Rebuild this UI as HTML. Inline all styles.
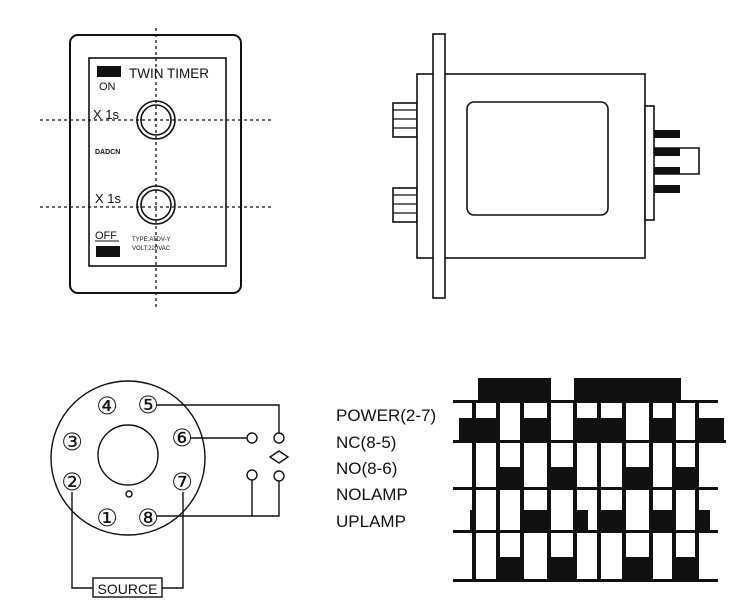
<!DOCTYPE html>
<html><head><meta charset="utf-8"><style>
html,body{margin:0;padding:0;background:#fff;}
svg{display:block;font-family:"Liberation Sans",Arial,sans-serif;}
</style></head><body>
<svg width="750" height="605" viewBox="0 0 750 605" xmlns="http://www.w3.org/2000/svg">
<!-- Front panel -->
<rect x="70" y="35" width="171" height="258" rx="8" fill="none" stroke="#111" stroke-width="2"/>
<rect x="89" y="58" width="137" height="208" fill="none" stroke="#111" stroke-width="1.6"/>
<g stroke="#111" stroke-width="1.3" stroke-dasharray="3,3" fill="none">
<line x1="156" y1="28" x2="156" y2="308"/>
<line x1="40" y1="120" x2="273" y2="120"/>
<line x1="40" y1="207" x2="273" y2="207"/>
</g>
<g fill="none" stroke="#111" stroke-width="1.6">
<circle cx="156" cy="120" r="19"/><circle cx="156" cy="120" r="15"/>
<circle cx="156" cy="205" r="19"/><circle cx="156" cy="205" r="15"/>
</g>
<rect x="97" y="66" width="24" height="11" fill="#111"/>
<text x="129" y="78" font-size="13.5" fill="#111">TWIN TIMER</text>
<text x="99" y="90" font-size="11" fill="#111">ON</text>
<text x="93" y="119" font-size="13" fill="#111">X 1s</text>
<text x="95" y="154" font-size="7" font-weight="bold" fill="#111">DADCN</text>
<text x="95" y="203" font-size="13" fill="#111">X 1s</text>
<text x="95" y="239" font-size="11" fill="#111">OFF</text>
<line x1="95" y1="241" x2="119" y2="241" stroke="#111" stroke-width="1"/>
<rect x="96" y="246" width="24" height="11" fill="#111"/>
<text x="132" y="241" font-size="6" fill="#111">TYPE:ATDV-Y</text>
<text x="132" y="250" font-size="6" fill="#111">VOLT:220VAC</text>

<!-- Side view -->
<g fill="#fff" stroke="#111" stroke-width="1.6">
<rect x="393" y="103" width="24" height="34"/>
<rect x="393" y="188" width="24" height="34"/>
<rect x="417" y="74" width="228" height="184"/>
<rect x="433" y="34" width="12" height="264"/>
<rect x="467" y="102" width="141" height="113" rx="7"/>
<rect x="645" y="106" width="9" height="114"/>
<path d="M654 148 H699 V174 H654" fill="none"/>
</g>
<g stroke="#111" stroke-width="1.2">
<line x1="393" y1="110" x2="417" y2="110"/><line x1="393" y1="119" x2="417" y2="119"/><line x1="393" y1="128" x2="417" y2="128"/>
<line x1="393" y1="195" x2="417" y2="195"/><line x1="393" y1="204" x2="417" y2="204"/><line x1="393" y1="213" x2="417" y2="213"/>
</g>
<g fill="#111">
<rect x="654" y="130" width="26" height="8"/>
<rect x="654" y="148" width="26" height="8"/>
<rect x="654" y="167" width="26" height="7"/>
<rect x="654" y="185" width="26" height="8"/>
</g>

<!-- Wiring diagram -->
<g fill="none" stroke="#111" stroke-width="1.4">
<circle cx="128" cy="458" r="77"/>
<circle cx="128" cy="455" r="30"/>
<circle cx="129" cy="494" r="3"/>
<polyline points="156,405 279,405 279,433"/>
<circle cx="279" cy="438" r="5"/>
<polygon points="270,457 279,451 288,457 279,463"/>
<circle cx="279" cy="476" r="5"/>
<polyline points="279,481 279,516 156,516"/>
<line x1="190" y1="438" x2="247" y2="438"/>
<circle cx="252" cy="438" r="5"/>
<circle cx="252" cy="475" r="5"/>
<line x1="252" y1="480" x2="252" y2="516"/>
<polyline points="72,492 72,588 93,588"/>
<rect x="93" y="578" width="69" height="19"/>
<polyline points="162,588 183,588 183,492"/>
</g>
<g font-size="24" fill="#111" text-anchor="middle" font-family="'DejaVu Sans',sans-serif">
<text x="107" y="414">④</text><text x="148" y="413">⑤</text>
<text x="72" y="450">③</text><text x="182" y="446">⑥</text>
<text x="72" y="490">②</text><text x="182" y="490">⑦</text>
<text x="107" y="526">①</text><text x="148" y="526">⑧</text>
</g>
<text x="127.5" y="594" font-size="14" fill="#111" text-anchor="middle">SOURCE</text>

<!-- Labels -->
<g font-size="17" fill="#111">
<text x="336" y="421">POWER(2-7)</text>
<text x="336" y="448">NC(8-5)</text>
<text x="336" y="474">NO(8-6)</text>
<text x="336" y="500">NOLAMP</text>
<text x="336" y="527">UPLAMP</text>
</g>

<!-- Timing chart -->
<g fill="#111">
<rect x="478" y="378" width="73" height="25"/>
<rect x="574" y="378" width="107" height="25"/>
<rect x="453" y="400" width="265" height="3"/>
<rect x="453" y="440" width="273" height="3"/>
<rect x="453" y="487" width="265" height="3"/>
<rect x="453" y="530" width="265" height="3"/>
<rect x="453" y="579" width="265" height="3"/>
<rect x="472" y="401" width="4" height="180"/>
<rect x="496" y="401" width="4" height="180"/>
<rect x="520" y="401" width="4" height="180"/>
<rect x="547" y="401" width="4" height="180"/>
<rect x="573" y="401" width="4" height="180"/>
<rect x="597" y="401" width="4" height="180"/>
<rect x="622" y="401" width="4" height="180"/>
<rect x="649" y="401" width="4" height="180"/>
<rect x="672" y="401" width="4" height="180"/>
<rect x="695" y="401" width="4" height="180"/>
<rect x="459" y="418" width="13" height="24"/>
<rect x="476" y="418" width="20" height="24"/>
<rect x="524" y="418" width="23" height="24"/>
<rect x="577" y="418" width="20" height="24"/>
<rect x="601" y="418" width="21" height="24"/>
<rect x="653" y="418" width="19" height="24"/>
<rect x="699" y="418" width="25" height="24"/>
<rect x="500" y="467" width="20" height="22"/>
<rect x="551" y="467" width="22" height="22"/>
<rect x="626" y="467" width="23" height="22"/>
<rect x="676" y="467" width="19" height="22"/>
<rect x="470" y="510" width="6" height="21"/>
<rect x="524" y="510" width="23" height="21"/>
<rect x="577" y="510" width="11" height="21"/>
<rect x="601" y="510" width="21" height="21"/>
<rect x="653" y="510" width="19" height="21"/>
<rect x="699" y="510" width="11" height="21"/>
<rect x="500" y="557" width="20" height="23"/>
<rect x="551" y="557" width="22" height="23"/>
<rect x="626" y="557" width="23" height="23"/>
<rect x="676" y="557" width="19" height="23"/>
</g>
</svg>
</body></html>
